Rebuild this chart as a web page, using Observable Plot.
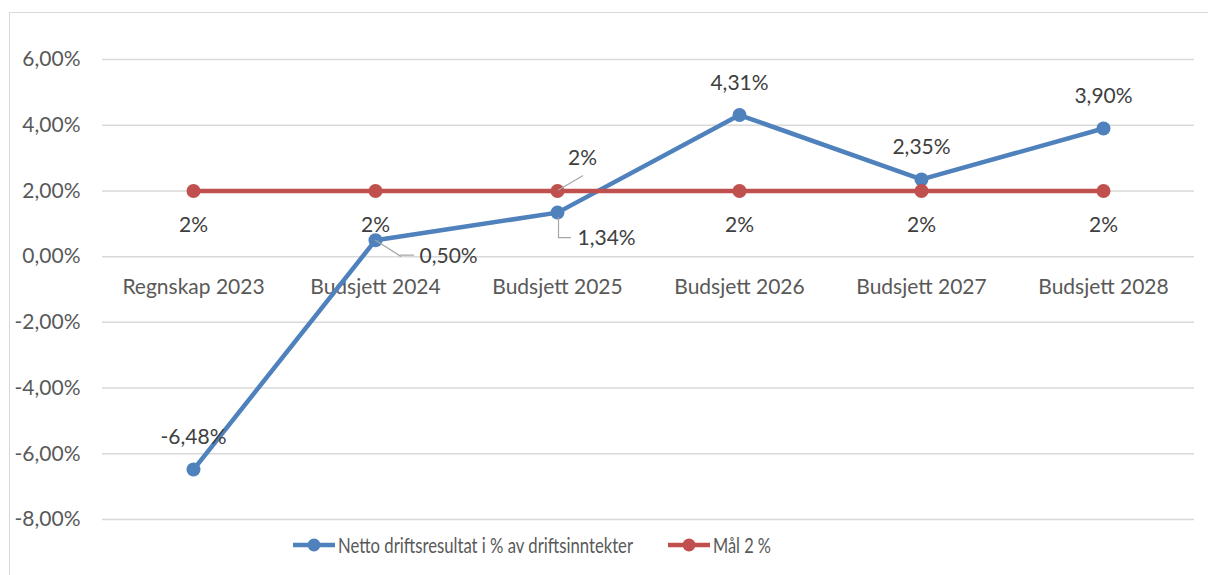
<!DOCTYPE html>
<html><head><meta charset="utf-8">
<script src="https://cdn.jsdelivr.net/npm/d3@7"></script>
<script src="https://cdn.jsdelivr.net/npm/@observablehq/plot@0.6"></script>
<style>
body{margin:0;background:#fff;font-family:Lato,"Open Sans",sans-serif;width:1208px;height:575px;overflow:hidden;position:relative}
#frame{position:absolute;left:9px;top:12px;width:1300px;height:700px;border:1.5px solid #d9d9d9;box-sizing:border-box}
#chart{position:absolute;left:0;top:0}
#legend{position:absolute;top:532px;left:293px;display:flex;align-items:center;font-size:21px;color:#595959;white-space:nowrap}
#legend .item{display:flex;align-items:center}
#legend svg{display:block;margin-right:3px}
#legend span{display:inline-block;transform-origin:0 50%}
</style></head>
<body>
<div id="frame"></div>
<div id="chart"></div>
<div id="legend"></div>
<script>
const categories = ["Regnskap 2023","Budsjett 2024","Budsjett 2025","Budsjett 2026","Budsjett 2027","Budsjett 2028"];
const netto = [-6.48, 0.50, 1.34, 4.31, 2.35, 3.90];
const maal = [2, 2, 2, 2, 2, 2];
const yTicks = [-8, -6, -4, -2, 0, 2, 4, 6];
const seriesNames = ["Netto driftsresultat i % av driftsinntekter", "Mål 2 %"];
const blue = "#4f81bd", red = "#c0504d";

const nettoData = categories.map((c, i) => ({cat: c, v: netto[i], i}));
const maalData = categories.map((c, i) => ({cat: c, v: maal[i], i}));
const pct2 = v => v.toFixed(2).replace(".", ",") + "%";
const pct0 = v => v + "%";
const seg = {draw(ctx, l) { ctx.moveTo(0, 0); ctx.lineTo(0, -l); }};
const FS = 21;
const lblFont = {fontSize: FS, fill: "#404040"};
const leader = {stroke: "#a6a6a6", strokeWidth: 1.2, shape: seg, anchor: "start"};

const chart = Plot.plot({
  width: 1208, height: 530,
  marginLeft: 102, marginRight: 14, marginTop: 59, marginBottom: 11,
  style: {fontFamily: "Lato, 'Open Sans', sans-serif", background: "transparent", overflow: "visible"},
  x: {type: "point", domain: categories, padding: 0.5, axis: null},
  y: {domain: [-8, 6], axis: null},
  marks: [
    Plot.gridY(yTicks, {stroke: "#d9d9d9", strokeOpacity: 1, strokeWidth: 1.5}),
    Plot.axisY(yTicks, {tickSize: 0, tickPadding: 22, tickFormat: pct2, fontSize: FS, fill: "#595959", label: null}),
    Plot.text(categories, {x: d => d, y: d => 0, dy: 31, text: d => d, fontSize: FS, fill: "#595959"}),
    Plot.line(nettoData, {x: "cat", y: "v", stroke: blue, strokeWidth: 4.5}),
    Plot.dot(nettoData, {x: "cat", y: "v", r: 7, fill: blue}),
    Plot.line(maalData, {x: "cat", y: "v", stroke: red, strokeWidth: 4.5}),
    Plot.dot(maalData, {x: "cat", y: "v", r: 7, fill: red}),
    // leader lines
    Plot.vector(nettoData.filter(d => d.i === 1), {x: "cat", y: "v", length: 30, rotate: 122.6, ...leader}),
    Plot.vector(nettoData.filter(d => d.i === 1), {x: "cat", y: "v", dx: 25, dy: 15, length: 13, rotate: 90, ...leader}),
    Plot.vector(nettoData.filter(d => d.i === 2), {x: "cat", y: "v", dx: 1, dy: 5, length: 20, rotate: 180, ...leader}),
    Plot.vector(nettoData.filter(d => d.i === 2), {x: "cat", y: "v", dx: 1, dy: 25, length: 12, rotate: 90, ...leader}),
    Plot.vector(maalData.filter(d => d.i === 2), {x: "cat", y: "v", dx: 1, dy: -1, length: 28, rotate: 59.7, ...leader}),
    // labels
    Plot.text(nettoData.filter(d => [0, 3, 4, 5].includes(d.i)), {x: "cat", y: "v", text: d => pct2(d.v), dy: -32, ...lblFont}),
    Plot.text(nettoData.filter(d => d.i === 1), {x: "cat", y: "v", text: d => pct2(d.v), dx: 44, dy: 16, textAnchor: "start", ...lblFont}),
    Plot.text(nettoData.filter(d => d.i === 2), {x: "cat", y: "v", text: d => pct2(d.v), dx: 20, dy: 26, textAnchor: "start", ...lblFont}),
    Plot.text(maalData.filter(d => d.i !== 2), {x: "cat", y: "v", text: d => pct0(d.v), dy: 34, ...lblFont}),
    Plot.text(maalData.filter(d => d.i === 2), {x: "cat", y: "v", text: d => pct0(d.v), dx: 25, dy: -33, ...lblFont})
  ]
});
document.getElementById("chart").appendChild(chart);

const legend = document.getElementById("legend");
const targetW = [295, 58];
[[seriesNames[0], blue], [seriesNames[1], red]].forEach(([name, col], k) => {
  const item = document.createElement("div");
  item.className = "item";
  if (k > 0) item.style.marginLeft = "35px";
  item.innerHTML = `<svg width="42" height="16"><line x1="0" y1="8" x2="42" y2="8" stroke="${col}" stroke-width="4.5"/><circle cx="21" cy="8" r="6.5" fill="${col}"/></svg><span>${name}</span>`;
  legend.appendChild(item);
  const span = item.querySelector("span");
  const w = span.getBoundingClientRect().width;
  const s = targetW[k] / w;
  span.style.transform = `scaleX(${s})`;
  span.style.marginRight = `${targetW[k] - w}px`;
});
</script>
</body></html>
